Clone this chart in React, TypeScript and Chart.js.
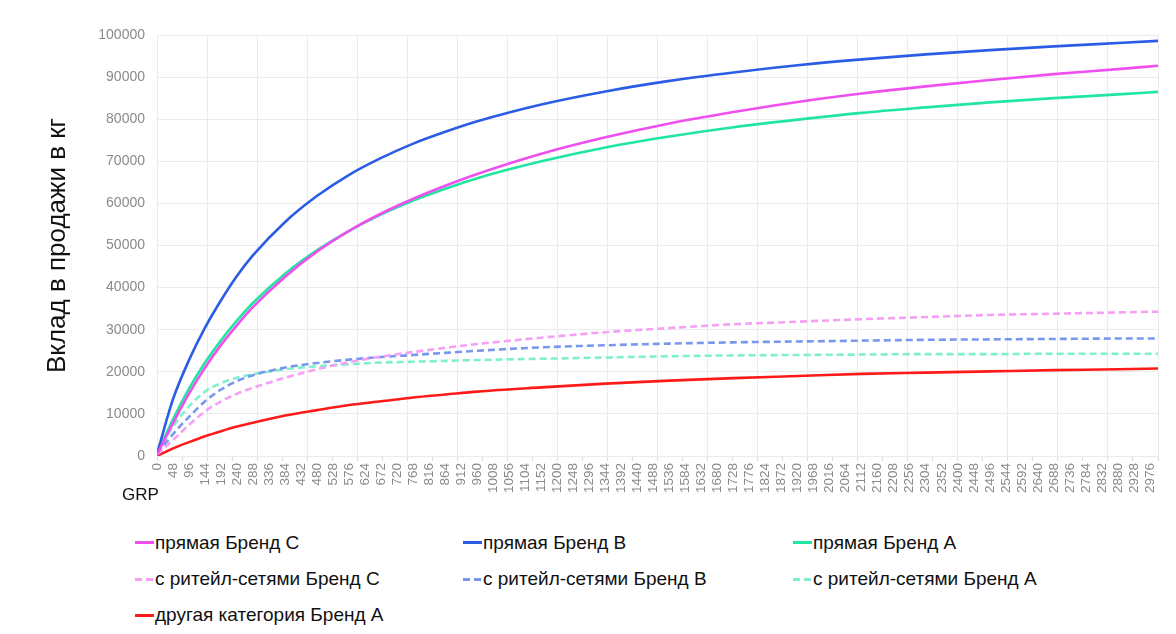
import React, { useEffect, useRef } from "react";
import { Chart, registerables } from "chart.js";

Chart.register(...registerables);

// GRP values at which curves were read
const grp = [0, 48, 96, 144, 192, 240, 288, 384, 480, 576, 672, 768, 864, 960, 1152, 1344, 1536, 1728, 1920, 2112, 2304, 2496, 2688, 2880, 3000];

const directC = [300, 7800, 14800, 21000, 26400, 31100, 35400, 42600, 48600, 53500, 57600, 61100, 64200, 67000, 71800, 75700, 79000, 81700, 84100, 86100, 87800, 89300, 90700, 91900, 92700];
const directB = [500, 13500, 22800, 30500, 37000, 42800, 47700, 55600, 61800, 66800, 70800, 74200, 77000, 79500, 83500, 86600, 89100, 91100, 92800, 94200, 95400, 96400, 97300, 98100, 98600];
const directA = [500, 8700, 16000, 22200, 27500, 32200, 36400, 43300, 48900, 53500, 57400, 60700, 63500, 66000, 70000, 73300, 75900, 78100, 79900, 81500, 82800, 84000, 85000, 85900, 86500];
const retailC = [300, 3800, 7400, 10600, 13000, 14800, 16200, 18600, 20600, 22300, 23600, 24700, 25700, 26600, 28100, 29400, 30400, 31300, 31900, 32500, 33000, 33500, 33800, 34100, 34300];
const retailB = [500, 5200, 9300, 13000, 15800, 17800, 19200, 21000, 22100, 22900, 23500, 24000, 24500, 25000, 25800, 26300, 26700, 27000, 27200, 27400, 27600, 27700, 27800, 27900, 27900];
const retailA = [500, 7000, 11800, 15300, 17300, 18600, 19400, 20600, 21300, 21800, 22200, 22400, 22600, 22800, 23100, 23400, 23700, 23900, 24000, 24100, 24200, 24200, 24300, 24300, 24300];
const otherA = [0, 1800, 3300, 4700, 5900, 7000, 7900, 9600, 10900, 12100, 13000, 13900, 14600, 15300, 16300, 17200, 17900, 18500, 19000, 19500, 19800, 20100, 20400, 20600, 20800];

const seriesNames = [
  "прямая Бренд C",
  "прямая Бренд B",
  "прямая Бренд A",
  "с ритейл-сетями Бренд C",
  "с ритейл-сетями Бренд B",
  "с ритейл-сетями Бренд A",
  "другая категория Бренд A",
];
const seriesValues = [directC, directB, directA, retailC, retailB, retailA, otherA];
const seriesColors = ["#f04ff0", "#2a5ce6", "#20e6a0", "#f5a0f5", "#7898ee", "#80f0cc", "#ff1a1a"];
const seriesDashed = [false, false, false, true, true, true, false];

const xMin = 0;
const xMax = 3000;
const xLabelStep = 48;
const xGridStep = 75;
const yMin = 0;
const yMax = 100000;
const yStep = 10000;
const yTitle = "Вклад в продажи в кг";
const xTitle = "GRP";

const FONT = "'Liberation Sans', Arial, Helvetica, sans-serif";

export default function App() {
  const ref = useRef<HTMLCanvasElement>(null);

  useEffect(() => {
    if (!ref.current) return;
    const datasets = seriesNames.map((name, i) => ({
      label: name,
      data: grp.map((g, j) => ({ x: g, y: seriesValues[i][j] })),
      borderColor: seriesColors[i],
      backgroundColor: seriesColors[i],
      borderWidth: 2.6,
      borderDash: seriesDashed[i] ? [7, 4] : [],
      pointRadius: 0,
      cubicInterpolationMode: "monotone" as const,
      fill: false,
      xAxisID: "x",
      yAxisID: "y",
    }));

    const chart = new Chart(ref.current, {
      type: "line",
      data: { datasets },
      options: {
        animation: false,
        responsive: false,
        layout: { padding: { left: 0, right: 18, top: 35, bottom: 19 } },
        plugins: {
          legend: { display: false },
          tooltip: { enabled: false },
        },
        scales: {
          x: {
            type: "linear",
            position: "bottom",
            weight: 1,
            min: xMin,
            max: xMax,
            ticks: {
              stepSize: xLabelStep,
              autoSkip: false,
              includeBounds: false,
              minRotation: 90,
              maxRotation: 90,
              padding: 2,
              color: "#8a8a8a",
              font: { family: FONT, size: 13.5 },
              callback: (v: any) => String(v),
            },
            grid: { display: false, drawTicks: false },
            border: { display: false },
            afterFit: (s: any) => {
              s.height = 40;
            },
          },
          xg: {
            type: "linear",
            position: "bottom",
            weight: 0,
            min: xMin,
            max: xMax,
            ticks: { display: false, stepSize: xGridStep, includeBounds: false },
            grid: {
              color: (ctx: any) => (ctx.tick && ctx.tick.value % (xGridStep * 2) === 0 ? "#ebebeb" : "rgba(0,0,0,0)"),
              tickColor: "#dcdcdc",
              tickLength: 5,
              drawTicks: true,
              lineWidth: 1,
            },
            border: { display: true, color: "#ebebeb" },
          },
          y: {
            type: "linear",
            position: "left",
            min: yMin,
            max: yMax,
            ticks: {
              stepSize: yStep,
              padding: 12,
              color: "#8a8a8a",
              font: { family: FONT, size: 14 },
              callback: (v: any) => String(v),
            },
            grid: { color: "#ebebeb", drawTicks: false, lineWidth: 1 },
            border: { display: true, color: "#ebebeb" },
            title: {
              display: true,
              text: yTitle,
              color: "#111",
              font: { family: FONT, size: 26 },
              padding: { top: 42, bottom: 0 },
            },
            afterFit: (s: any) => {
              s.width = 157;
            },
          },
        },
      },
    } as any);
    return () => chart.destroy();
  }, []);

  const colLeft = [135, 463, 793];
  const rowCenter = [542.5, 579, 615];

  return (
    <div style={{ position: "absolute", left: 0, top: 0, width: 1176, height: 634, background: "#fff", fontFamily: FONT }}>
      <canvas ref={ref} width={1176} height={520} style={{ display: "block", width: 1176, height: 520 }} />
      <div style={{ position: "absolute", left: 122, top: 485, fontSize: 17, lineHeight: "20px", color: "#111" }}>{xTitle}</div>
      {seriesNames.map((name, i) => {
        const col = i % 3;
        const row = Math.floor(i / 3);
        const c = seriesColors[i];
        const sampleBg = seriesDashed[i]
          ? `repeating-linear-gradient(to right, ${c} 0px, ${c} 7px, transparent 7px, transparent 11px)`
          : c;
        return (
          <div key={name} style={{ position: "absolute", left: colLeft[col], top: rowCenter[row] - 11, height: 22, display: "flex", alignItems: "center", whiteSpace: "nowrap" }}>
            <div style={{ width: 19, height: 3, background: sampleBg, marginRight: 1 }} />
            <span style={{ fontSize: 19, lineHeight: "22px", color: "#111" }}>{name}</span>
          </div>
        );
      })}
    </div>
  );
}
